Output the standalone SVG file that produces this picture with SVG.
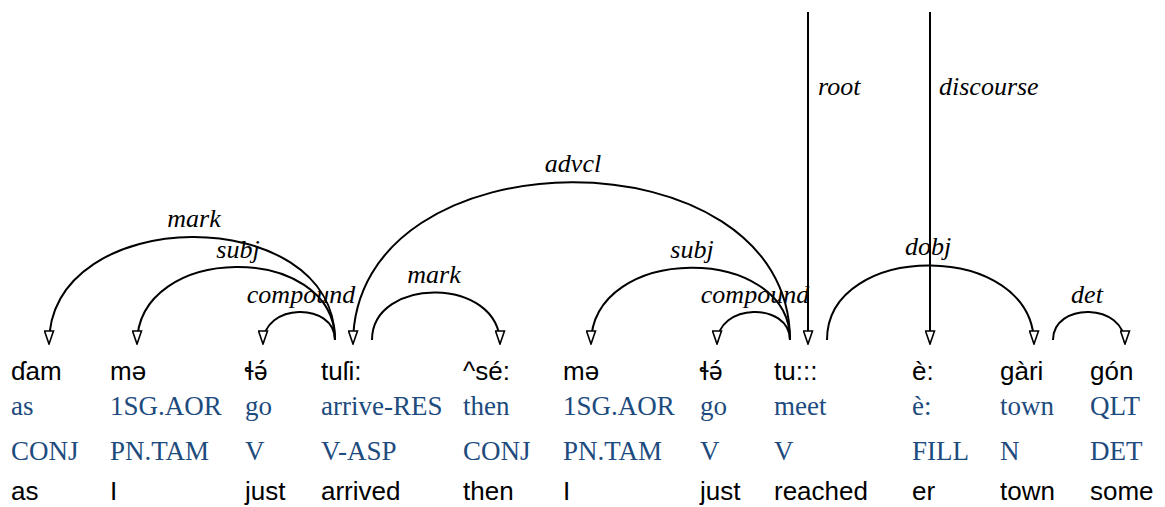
<svg xmlns="http://www.w3.org/2000/svg" width="1165" height="507" viewBox="0 0 1165 507">
<defs>
<marker id="ah" viewBox="0 0 15 11" refX="14" refY="5.5" markerWidth="15" markerHeight="11" markerUnits="userSpaceOnUse" orient="auto">
<path d="M1,1 L14,5.5 L1,10 Z" fill="#fff" stroke="#000" stroke-width="1.6" stroke-linejoin="miter"/>
</marker>
<style>
.w{font-family:"Liberation Sans","DejaVu Sans",sans-serif;font-size:26px;fill:#000}
.n{font-family:"Noto Sans","DejaVu Sans",sans-serif;font-size:25px}
.g{font-family:"Liberation Serif","DejaVu Serif",serif;font-size:27px;fill:#1d4b7e}
.l{font-family:"Liberation Serif","DejaVu Serif",serif;font-style:italic;font-size:26px;fill:#000;text-anchor:middle}
.ls{text-anchor:start}
.e{fill:none;stroke:#000;stroke-width:2;marker-end:url(#ah)}
</style>
</defs>
<rect width="1165" height="507" fill="#fff"/>
<g id="connectors">
<path class="e" d="M335,340 C335,202 49,202 49,344"/>
<path class="e" d="M335,340 C335,242 137,242 137,344"/>
<path class="e" d="M335,340 C335,302 263,302 263,344"/>
<path class="e" d="M790,340 C790,129 353,129 353,344"/>
<path class="e" d="M372,340 C372,276 500,276 500,344"/>
<path class="e" d="M790,340 C790,243 591,243 591,344"/>
<path class="e" d="M790,340 C790,302 717,302 717,344"/>
<path class="e" d="M827,340 C827,240 1034,240 1034,344"/>
<path class="e" d="M1053,340 C1053,302 1125,302 1125,344"/>
<path class="e" d="M808,12 L808,344"/>
<path class="e" d="M930,12 L930,344"/>
<text class="l" x="194" y="227">mark</text>
<text class="l" x="238" y="258">subj</text>
<text class="l" x="301" y="303">compound</text>
<text class="l" x="573" y="172">advcl</text>
<text class="l" x="434" y="283">mark</text>
<text class="l" x="692" y="258">subj</text>
<text class="l" x="755" y="303">compound</text>
<text class="l" x="928" y="255">dobj</text>
<text class="l" x="1087" y="303">det</text>
<text class="l ls" x="818" y="95">root</text>
<text class="l ls" x="939" y="95">discourse</text>
</g>
<g id="w1"><text class="w" x="11" y="380">ɗam</text><text class="g" x="11" y="415">as</text><text class="g" x="11" y="460">CONJ</text><text class="w" x="11" y="500">as</text></g>
<g id="w2"><text class="w" x="110" y="380">mə</text><text class="g" x="110" y="415">1SG.AOR</text><text class="g" x="110" y="460">PN.TAM</text><text class="w" x="110" y="500">I</text></g>
<g id="w3"><text class="w n" x="245" y="380">ɬə́</text><text class="g" x="245" y="415">go</text><text class="g" x="245" y="460">V</text><text class="w" x="245" y="500">just</text></g>
<g id="w4"><text class="w" x="321" y="380">tuſi:</text><text class="g" x="321" y="415">arrive-RES</text><text class="g" x="321" y="460">V-ASP</text><text class="w" x="321" y="500">arrived</text></g>
<g id="w5"><text class="w" x="463" y="380">^sé:</text><text class="g" x="463" y="415">then</text><text class="g" x="463" y="460">CONJ</text><text class="w" x="463" y="500">then</text></g>
<g id="w6"><text class="w" x="563" y="380">mə</text><text class="g" x="563" y="415">1SG.AOR</text><text class="g" x="563" y="460">PN.TAM</text><text class="w" x="563" y="500">I</text></g>
<g id="w7"><text class="w n" x="700" y="380">ɬə́</text><text class="g" x="700" y="415">go</text><text class="g" x="700" y="460">V</text><text class="w" x="700" y="500">just</text></g>
<g id="w8"><text class="w" x="774" y="380">tu:::</text><text class="g" x="774" y="415">meet</text><text class="g" x="774" y="460">V</text><text class="w" x="774" y="500">reached</text></g>
<g id="w9"><text class="w" x="912" y="380">è:</text><text class="g" x="912" y="415">è:</text><text class="g" x="912" y="460">FILL</text><text class="w" x="912" y="500">er</text></g>
<g id="w10"><text class="w" x="1000" y="380">gàri</text><text class="g" x="1000" y="415">town</text><text class="g" x="1000" y="460">N</text><text class="w" x="1000" y="500">town</text></g>
<g id="w11"><text class="w" x="1090" y="380">gón</text><text class="g" x="1090" y="415">QLT</text><text class="g" x="1090" y="460">DET</text><text class="w" x="1090" y="500">some</text></g>
</svg>
